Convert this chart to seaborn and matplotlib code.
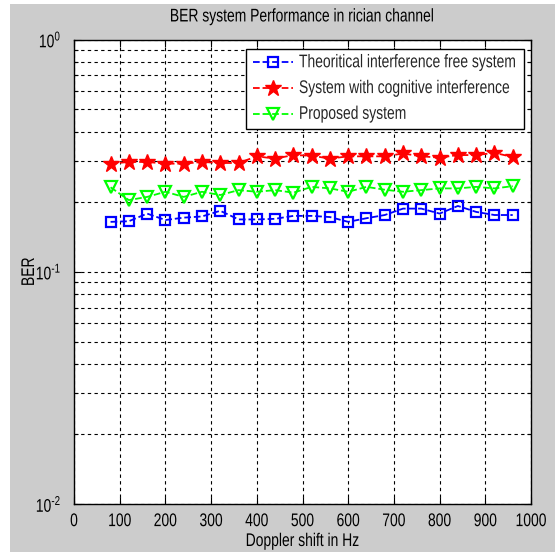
import math
import matplotlib
matplotlib.use("Agg")
import matplotlib.pyplot as plt
import matplotlib.ticker as mticker
from matplotlib.patches import Rectangle
from matplotlib.transforms import Affine2D
from matplotlib import patheffects
import seaborn as sns
import pandas as pd

# ---- data ----
doppler_hz = [80, 120, 160, 200, 240, 280, 320, 360, 400, 440, 480, 520,
              560, 600, 640, 680, 720, 760, 800, 840, 880, 920, 960]
ber_free = [0.164, 0.165, 0.178, 0.167, 0.171, 0.173, 0.183, 0.168, 0.168, 0.169, 0.174, 0.174,
            0.172, 0.164, 0.170, 0.1755, 0.187, 0.187, 0.178, 0.192, 0.181, 0.1755, 0.1755]
ber_cognitive = [0.292, 0.297, 0.297, 0.292, 0.292, 0.297, 0.294, 0.294, 0.314, 0.307, 0.318, 0.316,
                 0.307, 0.314, 0.314, 0.314, 0.323, 0.314, 0.310, 0.318, 0.318, 0.325, 0.312]
ber_proposed = [0.231, 0.2035, 0.210, 0.221, 0.210, 0.221, 0.214, 0.2246, 0.221, 0.2246, 0.219, 0.232,
                0.2285, 0.221, 0.232, 0.2255, 0.221, 0.2246, 0.2285, 0.2285, 0.232, 0.2285, 0.2336]
series_names = ["Theoritical interference free system",
                "System with cognitive interference",
                "Proposed system"]
x_ticks = [0, 100, 200, 300, 400, 500, 600, 700, 800, 900, 1000]


class VStretch(patheffects.AbstractPathEffect):
    """Stretch glyphs vertically about their baseline (narrow, tall look)."""
    def __init__(self, sy):
        super().__init__()
        self.sy = sy

    def draw_path(self, renderer, gc, tpath, affine, rgbFace=None):
        renderer.draw_path(gc, tpath, Affine2D().scale(1.0, self.sy) + affine, rgbFace)


sns.set_style("ticks")
plt.rcParams["font.family"] = ["Liberation Sans", "DejaVu Sans"]
plt.rcParams["mathtext.fontset"] = "custom"
plt.rcParams["mathtext.rm"] = "Liberation Sans"
plt.rcParams["mathtext.it"] = "Liberation Sans"
plt.rcParams["mathtext.default"] = "regular"
FS = 10
STRETCH = [VStretch(1.32)]

W, H = 555, 552
fig = plt.figure(figsize=(W / 100, H / 100), dpi=100, facecolor="white")
fig.patches.append(Rectangle((10 / W, 0), 1, (H - 4) / H, transform=fig.transFigure,
                             facecolor="#cccccc", edgecolor="none", zorder=-10))
L, R, T, B = 74, 531, 39.5, 504
ax = fig.add_axes([L / W, 1 - B / H, (R - L) / W, (B - T) / H])
ax.set_facecolor("white")

df = pd.DataFrame({"x": doppler_hz, "free": ber_free, "cog": ber_cognitive, "prop": ber_proposed})

sns.lineplot(data=df, x="x", y="free", ax=ax, color="#0000ff", linestyle="--", lw=1.3,
             marker="s", markersize=6.8, markerfacecolor="none", markeredgecolor="#0000ff",
             markeredgewidth=1.6, label=series_names[0])
sns.lineplot(data=df, x="x", y="cog", ax=ax, color="#ff0000", linestyle="--", lw=1.3,
             marker="*", markersize=12, markerfacecolor="#ff0000", markeredgecolor="#ff0000",
             markeredgewidth=1.0, label=series_names[1])
sns.lineplot(data=df, x="x", y="prop", ax=ax, color="#00ff00", linestyle="--", lw=1.3,
             marker="v", markersize=8.5, markerfacecolor="none", markeredgecolor="#00ff00",
             markeredgewidth=1.6, label=series_names[2])


def log_label(v, pos):
    if v <= 0:
        return ""
    e = int(round(math.log10(v)))
    if e < 0:
        return r"$10^{\text{-}%d}$" % (-e)
    return r"$10^{%d}$" % e


ax.set_yscale("log")
ax.set_ylim(1e-2, 1e0)
ax.set_xlim(0, 1000)
ax.set_xticks(x_ticks)
ax.set_xticklabels([str(t) for t in x_ticks])
ax.yaxis.set_major_locator(mticker.LogLocator(base=10, numticks=10))
ax.yaxis.set_minor_locator(mticker.LogLocator(base=10, subs=[2, 3, 4, 5, 6, 7, 8, 9], numticks=20))
ax.yaxis.set_minor_formatter(mticker.NullFormatter())
ax.yaxis.set_major_formatter(mticker.FuncFormatter(log_label))

grid_kw = dict(color="black", linestyle=(0, (3, 3)), linewidth=0.8)
ax.grid(True, which="major", axis="x", **grid_kw)
ax.grid(True, which="both", axis="y", **grid_kw)
ax.set_axisbelow(True)

ax.tick_params(which="both", direction="in", top=True, right=True, colors="black",
               labelsize=FS, width=0.8)
ax.tick_params(which="major", length=5)
ax.tick_params(which="minor", length=3)
ax.tick_params(axis="x", pad=8)
ax.tick_params(axis="y", pad=9)
for s in ax.spines.values():
    s.set_color("black")
    s.set_linewidth(1.0)

ax.set_xlabel("Doppler shift in Hz", fontsize=FS, color="black")
ax.set_ylabel("BER", fontsize=FS, color="black")
ax.xaxis.set_label_coords(0.5, (B - 535) / (B - T))
ax.yaxis.set_label_coords((37 - L) / (R - L), 0.5)
ax.set_title("BER system Performance in rician channel", fontsize=FS, pad=13, color="black")

leg = ax.legend(loc="upper right", bbox_to_anchor=((524.3 - L) / (R - L), (B - 49.3) / (B - T)),
                borderaxespad=0, fontsize=FS, frameon=True, fancybox=False, framealpha=1,
                edgecolor="black", facecolor="white", handlelength=2.9, handletextpad=0.4,
                labelspacing=0.85, borderpad=0.5, numpoints=1)
leg.get_frame().set_linewidth(1.0)

fig.canvas.draw()
texts = [ax.title, ax.xaxis.label, ax.yaxis.label] + list(leg.get_texts())
for tk in ax.xaxis.get_major_ticks() + ax.yaxis.get_major_ticks():
    texts += [tk.label1, tk.label2]
for t in texts:
    t.set_path_effects(STRETCH)

fig.savefig("out.png", dpi=100, facecolor=fig.get_facecolor())
